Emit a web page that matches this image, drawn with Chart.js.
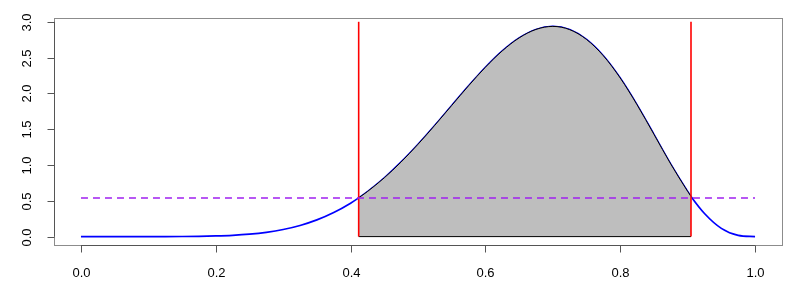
<!DOCTYPE html>
<html lang="en">
  <head>
    <meta charset="UTF-8" />
    <title>Density with HPD interval</title>
    <script src="https://cdn.jsdelivr.net/npm/chart.js@4.4.1/dist/chart.umd.min.js"></script>
    <style>
      html, body { margin: 0; padding: 0; background: #fff; }
      #wrap { width: 800px; height: 300px; }
    </style>
  </head>
  <body>
    <div id="wrap"><canvas id="chart" width="800" height="300"></canvas></div>
    <script>
      // density curve
      const xs = [0, 0.025, 0.05, 0.075, 0.1, 0.125, 0.15, 0.175, 0.2, 0.225, 0.25,
        0.275, 0.3, 0.325, 0.35, 0.375, 0.4, 0.412, 0.425, 0.45, 0.475, 0.5,
        0.525, 0.55, 0.575, 0.6, 0.625, 0.65, 0.675, 0.7, 0.725, 0.75, 0.775,
        0.8, 0.825, 0.85, 0.875, 0.9, 0.905, 0.925, 0.95, 0.975, 1];
      const density = [0, 0, 0, 0, 0.0001, 0.0004, 0.0014, 0.0037, 0.0087, 0.0179, 0.034,
        0.0598, 0.099, 0.1555, 0.2332, 0.3361, 0.4671, 0.541, 0.6285, 0.8206, 1.0421, 1.2891,
        1.5551, 1.8312, 2.1058, 2.3649, 2.5932, 2.7744, 2.8931, 2.9355, 2.8902, 2.753, 2.5249,
        2.2146, 1.8402, 1.4282, 1.0124, 0.6314, 0.56, 0.3227, 0.1152, 0.0173, 0];

      const hpdLow = 0.412;
      const hpdHigh = 0.905;
      const cutoff = 0.54;
      const redTop = 3.0;

      const xTicks = [0, 0.2, 0.4, 0.6, 0.8, 1.0];
      const yTicks = [0, 0.5, 1.0, 1.5, 2.0, 2.5, 3.0];
      const xTickLabels = ["0.0", "0.2", "0.4", "0.6", "0.8", "1.0"];
      const yTickLabels = ["0.0", "0.5", "1.0", "1.5", "2.0", "2.5", "3.0"];

      const curve = xs.map((x, i) => ({ x, y: density[i] }));
      const shaded = curve.filter(({ x }) => x >= hpdLow && x <= hpdHigh);

      const FONT = '13px "Liberation Sans", Arial, sans-serif';

      // R-style box, axes, ticks and labels (y labels rotated)
      const rAxes = {
        id: "rAxes",
        afterDraw(chart) {
          const { ctx, chartArea: a } = chart;
          const sx = chart.scales.x;
          const sy = chart.scales.y;
          ctx.save();
          ctx.lineWidth = 1;

          ctx.strokeStyle = "#8c8c8c";
          ctx.strokeRect(Math.round(a.left) + 0.5, Math.round(a.top) + 0.5,
            Math.round(a.right - a.left), Math.round(a.bottom - a.top));

          ctx.strokeStyle = "#555";
          ctx.fillStyle = "#000";
          ctx.font = FONT;

          // x axis
          const yb = Math.round(a.bottom) + 0.5;
          ctx.beginPath();
          ctx.moveTo(sx.getPixelForValue(xTicks[0]), yb);
          ctx.lineTo(sx.getPixelForValue(xTicks[xTicks.length - 1]), yb);
          ctx.stroke();
          ctx.textAlign = "center";
          ctx.textBaseline = "middle";
          xTicks.forEach((v, i) => {
            const px = Math.round(sx.getPixelForValue(v)) + 0.5;
            ctx.beginPath();
            ctx.moveTo(px, yb);
            ctx.lineTo(px, yb + 7);
            ctx.stroke();
            ctx.fillText(xTickLabels[i], px, a.bottom + 28);
          });

          // y axis
          const xl = Math.round(a.left) + 0.5;
          ctx.beginPath();
          ctx.moveTo(xl, sy.getPixelForValue(yTicks[0]));
          ctx.lineTo(xl, sy.getPixelForValue(yTicks[yTicks.length - 1]));
          ctx.stroke();
          yTicks.forEach((v, i) => {
            const py = Math.round(sy.getPixelForValue(v)) + 0.5;
            ctx.beginPath();
            ctx.moveTo(xl, py);
            ctx.lineTo(xl - 7, py);
            ctx.stroke();
            ctx.save();
            ctx.translate(a.left - 27, py);
            ctx.rotate(-Math.PI / 2);
            ctx.fillText(yTickLabels[i], 0, 0);
            ctx.restore();
          });
          ctx.restore();
        },
      };

      const line = (data, extra) => Object.assign({
        data,
        showLine: true,
        pointRadius: 0,
        fill: false,
        tension: 0,
      }, extra);

      new Chart(document.getElementById("chart"), {
        type: "scatter",
        data: {
          datasets: [
            line([{ x: 0, y: cutoff }, { x: 1, y: cutoff }], {
              borderColor: "#A020F0", borderWidth: 1.6, borderDash: [7, 5],
            }),
            line([{ x: hpdLow, y: 0 }, { x: hpdLow, y: redTop }], {
              borderColor: "#FF0000", borderWidth: 1.6,
            }),
            line([{ x: hpdHigh, y: 0 }, { x: hpdHigh, y: redTop }], {
              borderColor: "#FF0000", borderWidth: 1.6,
            }),
            line([{ x: hpdLow, y: 0 }, { x: hpdHigh, y: 0 }], {
              borderColor: "#000", borderWidth: 1,
            }),
            line(shaded, {
              borderColor: "#000", borderWidth: 1, fill: "origin",
              backgroundColor: "#BEBEBE", cubicInterpolationMode: "monotone",
            }),
            line(curve, {
              borderColor: "#0000FF", borderWidth: 1.7, cubicInterpolationMode: "monotone",
            }),
          ],
        },
        options: {
          responsive: false,
          animation: false,
          events: [],
          layout: { padding: { left: 54, right: 18, top: 18, bottom: 55 } },
          plugins: { legend: { display: false }, tooltip: { enabled: false } },
          scales: {
            x: { type: "linear", min: -0.04, max: 1.04, display: false },
            y: { type: "linear", min: -0.1174, max: 3.0529, display: false },
          },
        },
        plugins: [rAxes],
      });
    </script>
  </body>
</html>
